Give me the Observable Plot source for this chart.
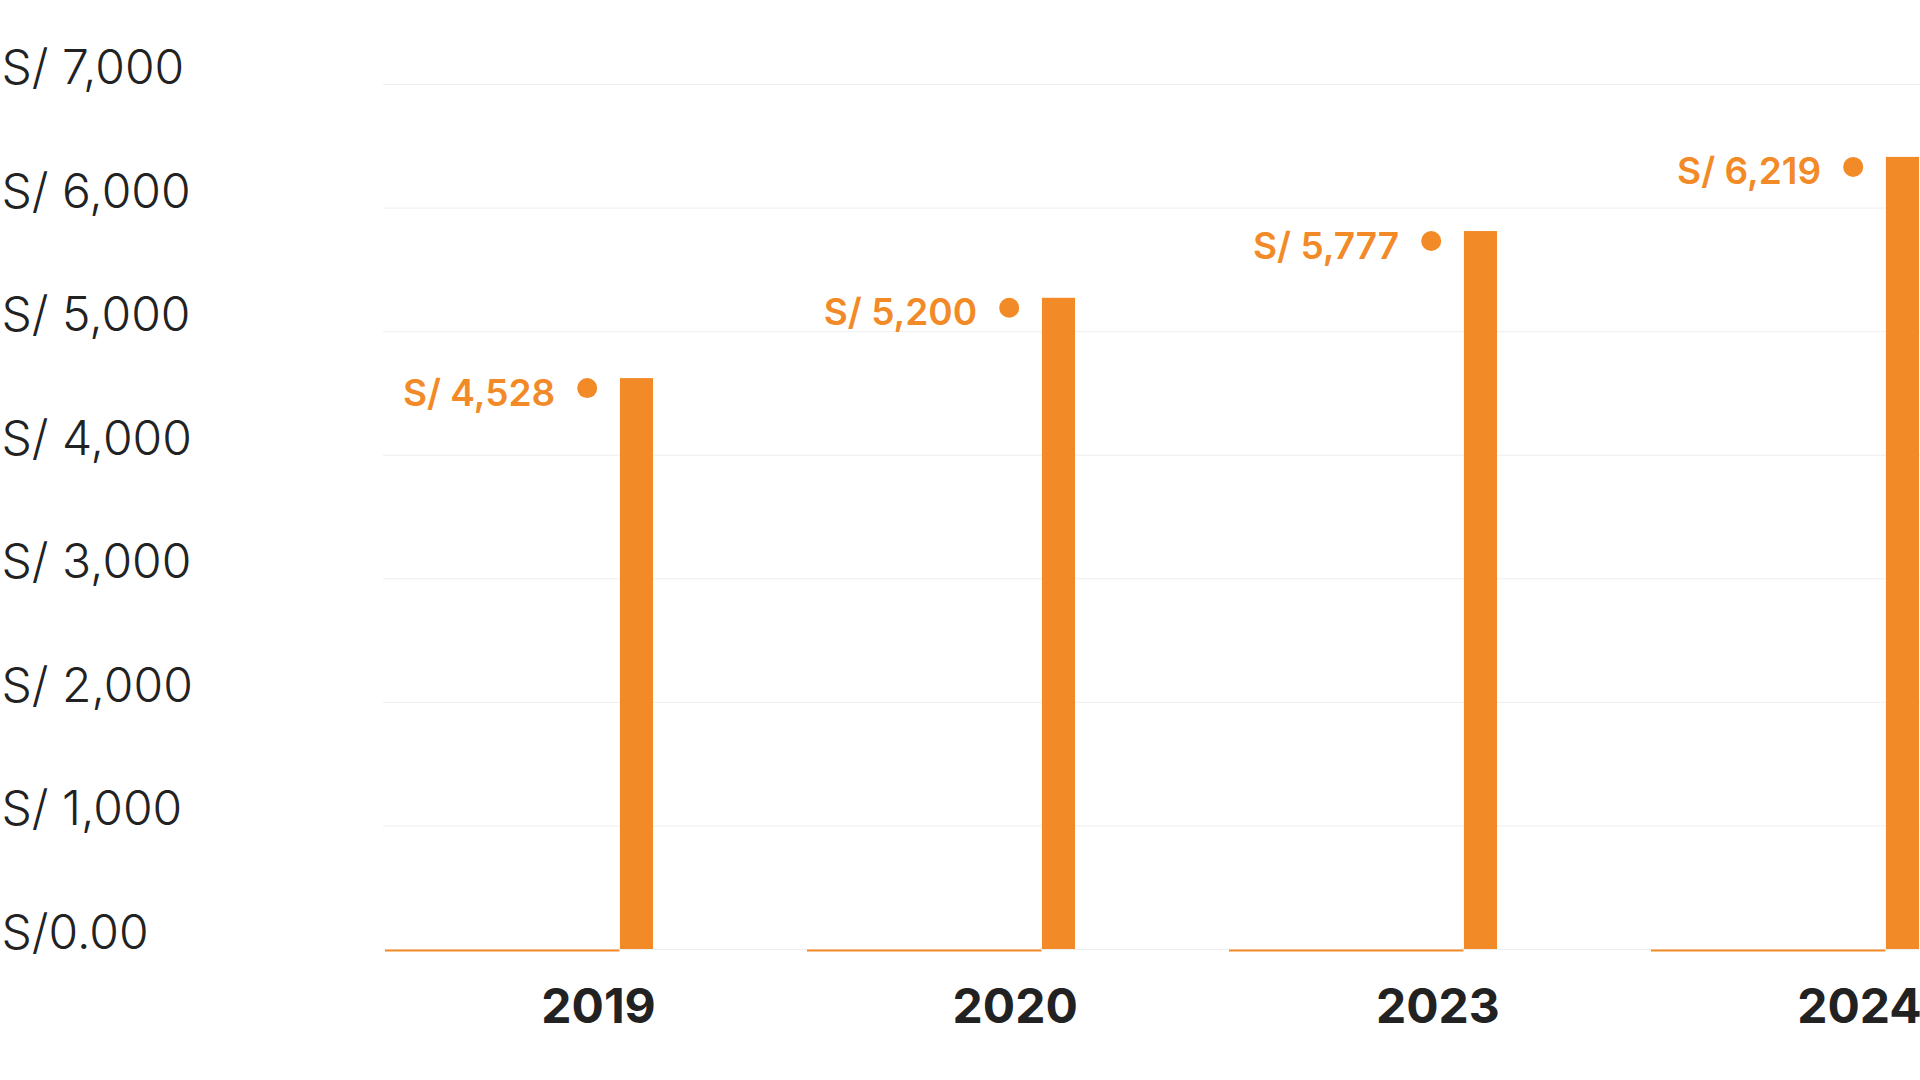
<!DOCTYPE html>
<html>
<head>
<meta charset="utf-8">
<script src="https://cdn.jsdelivr.net/npm/d3@7"></script>
<script src="https://cdn.jsdelivr.net/npm/@observablehq/plot@0.6"></script>
<style>
  html, body { margin: 0; padding: 0; background: #ffffff; overflow: hidden; }
  #chart svg { display: block; }
</style>
</head>
<body>
<div id="chart"></div>
<script>
// Data
const years = ["2019", "2020", "2023", "2024"];
const values = [4528, 5200, 5777, 6219];          // labelled values
const barHeights = [4620, 5270, 5810, 6410];       // bar heights as drawn
const yTicks = [0, 1000, 2000, 3000, 4000, 5000, 6000, 7000];
const yTickLabels = ["S/0.00", "S/ 1,000", "S/ 2,000", "S/ 3,000", "S/ 4,000", "S/ 5,000", "S/ 6,000", "S/ 7,000"];

const data = years.map((year, i) => ({
  year,
  bar: barHeights[i],
  label: "S/ " + d3.format(",")(values[i])
}));

const W = 1920, H = 1080;
const ML = 383, MR = 0, MT = 84, MB = 131;
const padInner = 0.365;
const step = (W - ML - MR) / (years.length - padInner);
const bw = step * (1 - padInner);
const orange = "#F28A27";
const ink = "#222222";

const chart = Plot.plot({
  width: W,
  height: H,
  marginLeft: ML,
  marginRight: MR,
  marginTop: MT,
  marginBottom: MB,
  style: { fontFamily: "Inter, 'Noto Sans', sans-serif", background: "#ffffff" },
  x: { type: "band", domain: years, paddingInner: padInner, paddingOuter: 0, axis: null },
  y: { domain: [0, 7000], axis: null },
  marks: [
    Plot.ruleY(yTicks, { y: d => d, stroke: "#efefef", strokeWidth: 1 }),
    Plot.text(yTicks, {
      y: d => d,
      text: (d, i) => yTickLabels[i],
      frameAnchor: "left",
      dx: -ML + 1,
      dy: -0.5,
      textAnchor: "start",
      lineAnchor: "bottom",
      fontSize: 48,
      fontWeight: 300,
      fill: ink
    }),
    Plot.tickY(data, { x: "year", y: () => 0, dy: 1, stroke: orange, strokeWidth: 2, insetRight: bw / 8 }),
    Plot.barY(data, { x: "year", y: "bar", fill: orange, insetLeft: bw * 7 / 8 }),
    Plot.dot(data, { x: "year", y: "bar", r: 10, fill: orange, dx: 3 * bw / 8 - 33, dy: 9.5 }),
    Plot.text(data, {
      x: "year", y: "bar", text: "label",
      textAnchor: "end", lineAnchor: "bottom",
      dx: 3 * bw / 8 - 65, dy: 27,
      fontSize: 37, fontWeight: 600, fill: orange
    }),
    Plot.text(data, {
      x: "year", y: () => 0, text: "year",
      textAnchor: "end", lineAnchor: "bottom",
      dx: bw / 2 + 2, dy: 73.5,
      fontSize: 48, fontWeight: 700, fill: ink
    })
  ]
});

document.getElementById("chart").appendChild(chart);
</script>
</body>
</html>
